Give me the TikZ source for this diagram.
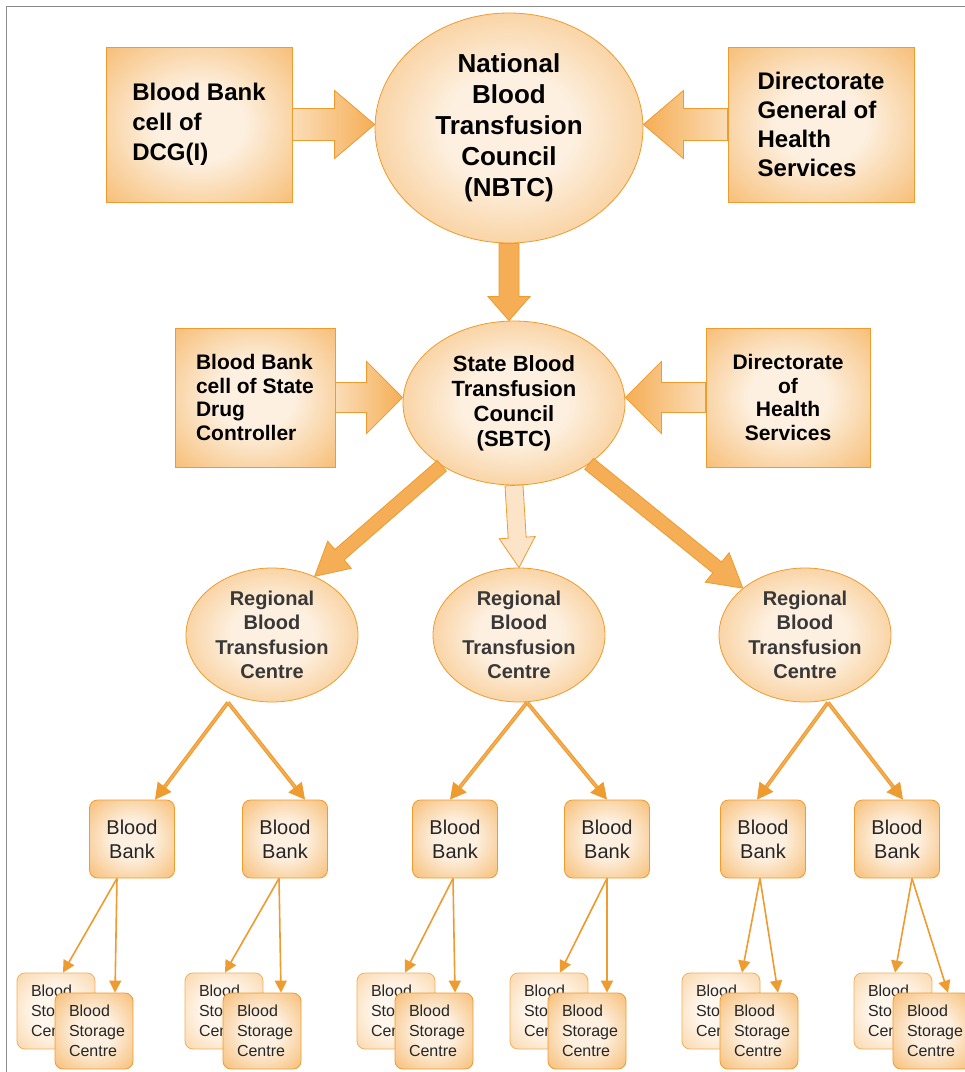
\documentclass[tikz,border=0pt]{standalone}
\usepackage{fontspec}
\setmainfont{Liberation Sans}
\usetikzlibrary{shapes.geometric,arrows.meta,calc}

\definecolor{edgeorange}{HTML}{EE9B2F}
\definecolor{glowin}{HTML}{FDF0E0}
\definecolor{glowout}{HTML}{F4A849}
\definecolor{palein}{HTML}{FFF7EE}
\definecolor{paleout}{HTML}{F8C98E}
\definecolor{arrowfill}{HTML}{F5AE55}
\definecolor{arrowpale}{HTML}{FBDDB8}
\definecolor{arrowlight}{HTML}{FCE4C9}
\definecolor{regiontext}{HTML}{383838}
\definecolor{framegray}{HTML}{8A8A8A}

% 中心が明るいグラデーション
\pgfdeclareradialshading{glow}{\pgfpoint{0bp}{0bp}}{color(0bp)=(glowin); color(12bp)=(glowin); color(46bp)=(glowout); color(50bp)=(glowout)}
\pgfdeclareradialshading{paleglow}{\pgfpoint{0bp}{0bp}}{color(0bp)=(palein); color(14bp)=(palein); color(46bp)=(paleout); color(50bp)=(paleout)}

\tikzset{
  topbox/.style={draw=edgeorange, line width=0.8pt, shading=glow, inner sep=0pt},
  council/.style={ellipse, draw=edgeorange, line width=0.8pt, shading=glow, inner sep=0pt, align=center},
  region/.style={council, minimum width=172pt, minimum height=134pt, text=regiontext,
    font=\bfseries\fontsize{20pt}{24.5pt}\selectfont},
  bank/.style={draw=edgeorange, line width=0.8pt, shading=glow, rounded corners=8pt,
    minimum width=85pt, minimum height=78pt, align=center, text=black!85,
    font=\fontsize{20pt}{24pt}\selectfont},
  storeback/.style={draw=edgeorange!80, line width=0.8pt, shading=paleglow, rounded corners=8pt,
    minimum width=78pt, minimum height=76pt, text width=50pt, align=left, text=black!85,
    font=\fontsize{16pt}{20pt}\selectfont},
  storefront/.style={storeback, draw=edgeorange, shading=glow},
  fatarrow/.style={draw=edgeorange, line width=0.8pt, fill=arrowfill, line join=miter},
  dblarrow/.style={draw=edgeorange, line width=1.1pt, double=arrowfill, double distance=1.6pt,
    -{Triangle[length=16pt,width=17pt]}},
  thinarrow/.style={draw=edgeorange, line width=1.6pt, -{Triangle[length=12pt,width=12pt]}}
}

% 太い矢印: [スタイル]{始点}{終点}{軸の半幅}{頭の半幅}{頭の長さ}
\newcommand\fatarrow[6][]{%
  \coordinate (fahead) at ($(#3)!#6!(#2)$);
  \path[fatarrow,#1] ($(#2)!#4!90:(#3)$) -- ($(fahead)!#4!90:(#3)$)
    -- ($(fahead)!#5!90:(#3)$) -- (#3) -- ($(fahead)!#5!-90:(#3)$)
    -- ($(fahead)!#4!-90:(#3)$) -- ($(#2)!#4!-90:(#3)$) -- cycle;}

\begin{document}
\begin{tikzpicture}[x=1pt,y=-1pt]
  \useasboundingbox (0,0) rectangle (965,1072);
  % 外枠
  \draw[framegray, line width=1pt] (965,6) -- (6,6) -- (6,1072);

  % 国の段
  \node[topbox, minimum width=186pt, minimum height=155pt, align=left,
    font=\bfseries\fontsize{24pt}{30pt}\selectfont] (dcgcell) at (199,124.5) {Blood Bank\\cell of\\DCG(I)};
  \node[council, minimum width=268pt, minimum height=230pt,
    font=\bfseries\fontsize{26pt}{31pt}\selectfont] (nbtc) at (509,128) {National\\Blood\\Transfusion\\Council\\(NBTC)};
  \node[topbox, minimum width=186pt, minimum height=155pt, align=left,
    font=\bfseries\fontsize{24pt}{29pt}\selectfont] (dghs) at (821,124.5) {Directorate\\General of\\Health\\Services};

  % 州の段
  \node[topbox, minimum width=160pt, minimum height=139pt, align=left,
    font=\bfseries\fontsize{21pt}{23.5pt}\selectfont] (sdcell) at (255,397.5) {Blood Bank\\cell of State\\Drug\\Controller};
  \node[council, minimum width=222pt, minimum height=164pt,
    font=\bfseries\fontsize{22pt}{25pt}\selectfont] (sbtc) at (514,403) {State Blood\\Transfusion\\Council\\(SBTC)};
  \node[topbox, minimum width=164pt, minimum height=139pt, align=center,
    font=\bfseries\fontsize{21pt}{23.5pt}\selectfont] (dhs) at (788,397.5) {Directorate\\of\\Health\\Services};

  % 地域センター
  \node[region] (rc1) at (272,635) {Regional\\Blood\\Transfusion\\Centre};
  \node[region] (rc2) at (519,635) {Regional\\Blood\\Transfusion\\Centre};
  \node[region] (rc3) at (805,635) {Regional\\Blood\\Transfusion\\Centre};

  % 血液銀行
  \node[bank] (bank1) at (132,839) {Blood\\Bank};
  \node[bank] (bank2) at (285,839) {Blood\\Bank};
  \node[bank] (bank3) at (455,839) {Blood\\Bank};
  \node[bank] (bank4) at (607,839) {Blood\\Bank};
  \node[bank] (bank5) at (763,839) {Blood\\Bank};
  \node[bank] (bank6) at (897,839) {Blood\\Bank};

  % 血液保管センター（後ろと前）
  \node[storeback] (back1) at (56,1011) {Blood\\Storage\\Centre};
  \node[storefront] (front1) at (94,1031) {Blood\\Storage\\Centre};
  \node[storeback] (back2) at (224,1011) {Blood\\Storage\\Centre};
  \node[storefront] (front2) at (262,1031) {Blood\\Storage\\Centre};
  \node[storeback] (back3) at (396,1011) {Blood\\Storage\\Centre};
  \node[storefront] (front3) at (434,1031) {Blood\\Storage\\Centre};
  \node[storeback] (back4) at (549,1011) {Blood\\Storage\\Centre};
  \node[storefront] (front4) at (587,1031) {Blood\\Storage\\Centre};
  \node[storeback] (back5) at (721,1011) {Blood\\Storage\\Centre};
  \node[storefront] (front5) at (759,1031) {Blood\\Storage\\Centre};
  \node[storeback] (back6) at (893,1011) {Blood\\Storage\\Centre};
  \node[storefront] (front6) at (932,1031) {Blood\\Storage\\Centre};

  % 上段の太い矢印
  \fatarrow[left color=arrowpale, right color=arrowfill]{dcgcell.east}{nbtc.west |- dcgcell.east}{16pt}{34pt}{40pt}
  \fatarrow[left color=arrowfill, right color=arrowpale]{dghs.west}{nbtc.east |- dghs.west}{16pt}{34pt}{40pt}
  \fatarrow{nbtc.south}{sbtc.north -| nbtc.south}{10pt}{21pt}{24pt}

  % 州の段の太い矢印
  \fatarrow[left color=arrowpale, right color=arrowfill]{sdcell.east}{sbtc.west |- sdcell.east}{15pt}{36pt}{36pt}
  \fatarrow[left color=arrowfill, right color=arrowpale]{dhs.west}{sbtc.east |- dhs.west}{15pt}{36pt}{36pt}
  \fatarrow{sbtc.221}{rc1.54}{7pt}{18pt}{33pt}
  \fatarrow[fill=arrowlight]{sbtc.south}{rc2.north}{9pt}{18pt}{30pt}
  \fatarrow{sbtc.-39}{rc3.143}{7pt}{19pt}{33pt}

  % 地域センターから血液銀行へ
  \draw[dblarrow] ([xshift=-44pt]rc1.south) -- ([xshift=23pt]bank1.north);
  \draw[dblarrow] ([xshift=-44pt]rc1.south) -- ([xshift=20pt]bank2.north);
  \draw[dblarrow] ([xshift=8pt]rc2.south) -- ([xshift=-5pt]bank3.north);
  \draw[dblarrow] ([xshift=8pt]rc2.south) -- ([xshift=0pt]bank4.north);
  \draw[dblarrow] ([xshift=23pt]rc3.south) -- ([xshift=-6pt]bank5.north);
  \draw[dblarrow] ([xshift=23pt]rc3.south) -- ([xshift=6pt]bank6.north);

  % 血液銀行から保管センターへ
  \draw[thinarrow] ([xshift=-15pt]bank1.south) -- ([xshift=7pt]back1.north);
  \draw[thinarrow] ([xshift=-15pt]bank1.south) -- ([xshift=21pt]front1.north);
  \draw[thinarrow] ([xshift=-6pt]bank2.south) -- ([xshift=1pt]back2.north);
  \draw[thinarrow] ([xshift=-6pt]bank2.south) -- ([xshift=19pt]front2.north);
  \draw[thinarrow] ([xshift=-2pt]bank3.south) -- ([xshift=9pt]back3.north);
  \draw[thinarrow] ([xshift=-2pt]bank3.south) -- ([xshift=21pt]front3.north);
  \draw[thinarrow] (bank4.south) -- ([xshift=11pt]back4.north);
  \draw[thinarrow] (bank4.south) -- ([xshift=20pt]front4.north);
  \draw[thinarrow] ([xshift=-3pt]bank5.south) -- ([xshift=21pt]back5.north);
  \draw[thinarrow] ([xshift=-3pt]bank5.south) -- ([xshift=19pt]front5.north);
  \draw[thinarrow] ([xshift=15pt]bank6.south) -- ([xshift=2pt]back6.north);
  \draw[thinarrow] ([xshift=15pt]bank6.south) -- ([xshift=16pt]front6.north);
\end{tikzpicture}
\end{document}
